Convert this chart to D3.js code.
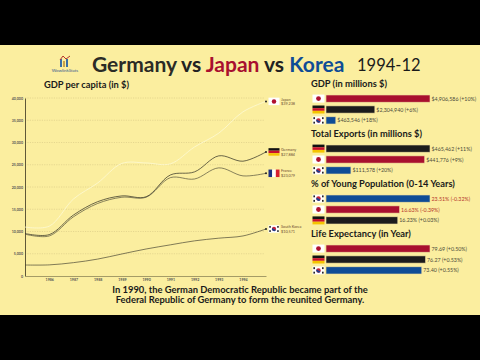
<!doctype html>
<html lang="en">
<head>
    <title>Germany vs Japan vs Korea</title>
    <script src="https://d3js.org/d3.v7.min.js"></script>
    <style>
        html, body { margin: 0; padding: 0; background: #000; }
        svg { display: block; }
        text { font-family: Lato, "Noto Sans", sans-serif; }
    </style>
</head>
<body>
<script>
    // Line chart data
    const years = [1985, 1986, 1987, 1988, 1989, 1990, 1991, 1992, 1993, 1994, 1994.95];
    const japan = [11000, 11200, 17300, 20900, 25300, 25400, 25200, 29000, 32100, 36900, 39238];
    const germany = [9550, 9300, 13700, 16700, 18000, 17800, 22700, 23400, 27000, 25800, 27884];
    const france = [9400, 9000, 13300, 16300, 17700, 17700, 22100, 21800, 24300, 22500, 23079];
    const korea = [2470, 2500, 3000, 3800, 4950, 6070, 7000, 7900, 8500, 9000, 10571];
    const xTicks = [1986, 1987, 1988, 1989, 1990, 1991, 1992, 1993, 1994];
    const yTicks = [0, 5000, 10000, 15000, 20000, 25000, 30000, 35000, 40000];

    // Bar panels
    const gdpNames = ["jp", "de", "kr"];
    const gdpValues = [4906586, 2304940, 463546];
    const gdpLabels = ["$4,906,586 (+10%)", "$2,304,940 (+6%)", "$463,546 (+18%)"];
    const exportNames = ["de", "jp", "kr"];
    const exportValues = [465462, 441776, 111578];
    const exportLabels = ["$465,462 (+11%)", "$441,776 (+9%)", "$111,578 (+20%)"];
    const youngNames = ["kr", "jp", "de"];
    const youngValues = [23.51, 16.63, 16.23];
    const youngLabels = ["23.51% (-0.32%)", "16.63% (-0.39%)", "16.23% (+0.03%)"];
    const lifeNames = ["jp", "de", "kr"];
    const lifeValues = [79.69, 76.27, 73.40];
    const lifeLabels = ["79.69 (+0.50%)", "76.27 (+0.53%)", "73.40 (+0.55%)"];

    const barColors = { jp: "#a8102f", de: "#1c1c1c", kr: "#0f4c96" };
    const bg = "#fbee9f";

    const svg = d3.select("body").append("svg")
        .attr("width", 480)
        .attr("height", 360);

    svg.append("rect").attr("width", 480).attr("height", 360).attr("fill", "#000");
    svg.append("rect").attr("y", 45).attr("width", 480).attr("height", 270).attr("fill", bg);

    // Flags, w x h centred on cx, cy
    function flag(g, code, cx, cy, w, h) {
        const f = g.append("g").attr("transform", `translate(${cx - w / 2},${cy - h / 2})`);
        if (code === "de") {
            ["#111", "#c8102e", "#f5c400"].forEach((c, i) => {
                f.append("rect").attr("y", i * h / 3).attr("width", w).attr("height", h / 3).attr("fill", c);
            });
        } else if (code === "fr") {
            ["#1c2f80", "#fff", "#d8202f"].forEach((c, i) => {
                f.append("rect").attr("x", i * w / 3).attr("width", w / 3).attr("height", h).attr("fill", c);
            });
        } else {
            f.append("rect").attr("width", w).attr("height", h).attr("fill", "#fff");
            if (code === "jp") {
                f.append("circle").attr("cx", w / 2).attr("cy", h / 2).attr("r", h * 0.3).attr("fill", "#b0102f");
            } else {
                const r = h * 0.28;
                f.append("circle").attr("cx", w / 2).attr("cy", h / 2).attr("r", r).attr("fill", "#c8203a");
                f.append("path")
                    .attr("d", d3.arc()({ innerRadius: 0, outerRadius: r, startAngle: Math.PI / 2 + 0.5, endAngle: Math.PI * 1.5 + 0.5 }))
                    .attr("transform", `translate(${w / 2},${h / 2})`)
                    .attr("fill", "#1a3f8f");
                [[0.14, 0.22], [0.86, 0.22], [0.14, 0.78], [0.86, 0.78]].forEach(p => {
                    f.append("rect").attr("x", w * p[0] - h * 0.1).attr("y", h * p[1] - h * 0.12)
                        .attr("width", h * 0.2).attr("height", h * 0.24).attr("fill", "#222");
                });
            }
        }
    }

    // Header
    const title = svg.append("text").attr("x", 92).attr("y", 72)
        .attr("font-size", 21).attr("font-weight", 700);
    title.append("tspan").attr("fill", "#2b2b26").text("Germany");
    title.append("tspan").attr("fill", "#222").text(" vs ");
    title.append("tspan").attr("fill", "#a8102f").text("Japan");
    title.append("tspan").attr("fill", "#222").text(" vs ");
    title.append("tspan").attr("fill", "#0f4c96").text("Korea");
    svg.append("text").attr("x", 357).attr("y", 71)
        .attr("font-size", 16.5).attr("fill", "#1a1a1a").text("1994-12");

    // Logo
    const logo = svg.append("g");
    logo.append("rect").attr("x", 60).attr("y", 59).attr("width", 2).attr("height", 8).attr("fill", "#3a6ea5");
    logo.append("rect").attr("x", 63).attr("y", 61).attr("width", 2).attr("height", 6).attr("fill", "#c9a24a");
    logo.append("rect").attr("x", 66).attr("y", 59).attr("width", 2).attr("height", 8).attr("fill", "#3a6ea5");
    logo.append("path").attr("d", "M60 60L63 56L66 59L70 56").attr("fill", "none").attr("stroke", "#b5342c").attr("stroke-width", 1);
    logo.append("text").attr("x", 65).attr("y", 72).attr("text-anchor", "middle")
        .attr("font-size", 4.4).attr("fill", "#3a5a90").text("WowlinkStats");

    // Line chart
    svg.append("text").attr("x", 44).attr("y", 88).attr("font-size", 9.3).attr("font-weight", 700)
        .attr("fill", "#1a1a1a").text("GDP per capita (in $)");

    const x = d3.scaleLinear().domain([1985, 1994.95]).range([25, 266]);
    const y = d3.scaleLinear().domain([0, 40000]).range([276, 98]);

    svg.append("g").selectAll("line")
        .data(yTicks.slice(1))
        .join("line")
        .attr("x1", 25).attr("x2", 264)
        .attr("y1", d => y(d)).attr("y2", d => y(d))
        .attr("stroke", "#d6c885").attr("stroke-width", 0.6).attr("stroke-dasharray", "1.2 1.2");

    const yAxis = svg.append("g").attr("transform", "translate(25,0)")
        .call(d3.axisLeft(y).tickValues(yTicks).tickFormat(d3.format(",")).tickSize(0).tickPadding(2));
    yAxis.selectAll("text").attr("font-size", 3.6).attr("font-weight", 700).attr("fill", "#555");
    yAxis.select(".domain").attr("stroke", "#5f5838").attr("stroke-width", 1);

    const xAxis = svg.append("g").attr("transform", "translate(0,276)")
        .call(d3.axisBottom(x).tickValues(xTicks).tickFormat(d3.format("d")).tickSize(0).tickPadding(2));
    xAxis.selectAll("text").attr("font-size", 3.6).attr("font-weight", 700).attr("fill", "#555");
    xAxis.select(".domain").attr("stroke", "#8f8658").attr("stroke-width", 0.8);

    const line = d3.line().x((d, i) => x(years[i])).y(d => y(d)).curve(d3.curveCatmullRom.alpha(0.5));

    const seriesList = [
        { name: "Japan", code: "jp", values: japan, stroke: "#fdf8cf", label: "$39,238" },
        { name: "Germany", code: "de", values: germany, stroke: "#2a2a20", label: "$27,884" },
        { name: "France", code: "fr", values: france, stroke: "#55523c", label: "$23,079" },
        { name: "South Korea", code: "kr", values: korea, stroke: "#4a4835", label: "$10,571" }
    ];

    seriesList.forEach(s => {
        svg.append("path").datum(s.values)
            .attr("d", line)
            .attr("fill", "none")
            .attr("stroke", s.stroke)
            .attr("stroke-width", s.code === "jp" ? 0.9 : 0.7);

        const ey = y(s.values[s.values.length - 1]);
        svg.append("circle").attr("cx", 266).attr("cy", ey).attr("r", 1).attr("fill", "#222");
        flag(svg, s.code, 274, ey, 11, 7.5);
        svg.append("text").attr("x", 281).attr("y", ey - 0.8).attr("font-size", 3.8).attr("fill", "#6b4a30").text(s.name);
        svg.append("text").attr("x", 281).attr("y", ey + 3.6).attr("font-size", 3.8).attr("fill", "#6b4a30").text(s.label);
    });

    // Bar panels
    function panel(heading, headY, names, values, labels, rowY, warn) {
        svg.append("text").attr("x", 311).attr("y", headY).attr("font-size", 9.3).attr("font-weight", 700)
            .attr("fill", "#1a1a1a").text(heading);

        const bx = d3.scaleLinear().domain([0, d3.max(values)]).range([326, 430]);
        const by = d3.scaleBand().domain(names).range(rowY).paddingInner(0.34);

        names.forEach((n, i) => {
            svg.append("rect")
                .attr("x", bx(0)).attr("y", by(n))
                .attr("width", bx(values[i]) - bx(0)).attr("height", by.bandwidth())
                .attr("fill", barColors[n])
                .attr("stroke", "#f0dfa0").attr("stroke-width", 0.6);
            flag(svg, n, 318.5, by(n) + by.bandwidth() / 2, 12, 8);
            svg.append("text")
                .attr("x", bx(values[i]) + 1.5).attr("y", by(n) + by.bandwidth() / 2 + 2)
                .attr("font-size", 5.3)
                .attr("fill", warn && i < 2 ? "#b5352a" : "#4a4a3a")
                .text(labels[i]);
        });
    }

    panel("GDP (in millions $)", 87, gdpNames, gdpValues, gdpLabels, [95, 124], false);
    panel("Total Exports (in millions $)", 137, exportNames, exportValues, exportLabels, [145, 174], false);
    panel("% of Young Population (0-14 Years)", 187, youngNames, youngValues, youngLabels, [195, 224], true);
    panel("Life Expectancy (in Year)", 237, lifeNames, lifeValues, lifeLabels, [245, 274], false);

    // Caption
    svg.append("text").attr("x", 240).attr("y", 293).attr("text-anchor", "middle")
        .attr("font-size", 9.4).attr("font-weight", 700).attr("fill", "#1a1a1a")
        .text("In 1990, the German Democratic Republic became part of the");
    svg.append("text").attr("x", 240).attr("y", 303).attr("text-anchor", "middle")
        .attr("font-size", 9.4).attr("font-weight", 700).attr("fill", "#1a1a1a")
        .text("Federal Republic of Germany to form the reunited Germany.");
</script>
</body>
</html>
